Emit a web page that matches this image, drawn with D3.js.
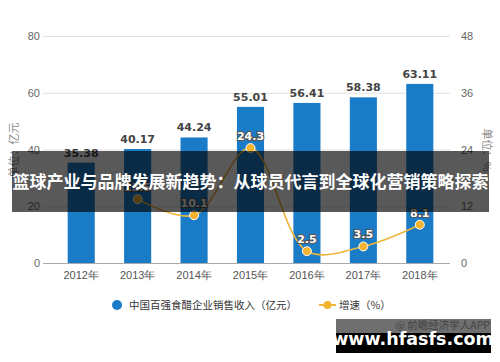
<!DOCTYPE html>
<html>
<head>
<meta charset="utf-8">
<script src="https://cdn.jsdelivr.net/npm/d3@7"></script>
<style>
  body { margin: 0; background: #fff; }
  svg { display: block; font-family: "Noto Sans CJK SC", "Noto Sans", sans-serif; }
</style>
</head>
<body>
<script>
// chart data
var years = ["2012年", "2013年", "2014年", "2015年", "2016年", "2017年", "2018年"];
var sales = [35.38, 40.17, 44.24, 55.01, 56.41, 58.38, 63.11];
var growth = [null, 13.5, 10.1, 24.3, 2.5, 3.5, 8.1];
var leftTicks = [0, 20, 40, 60, 80];
var rightTicks = [0, 12, 24, 36, 48];

var svgWidth = 500;
var svgHeight = 362;

var svg = d3.select("body")
  .append("svg")
  .attr("width", svgWidth)
  .attr("height", svgHeight);

// plot area
var plotLeft = 43, plotRight = 450, plotTop = 36, plotBottom = 263;

var xScale = d3.scaleBand()
  .domain(years)
  .range([53, 448])
  .paddingInner(0.52)
  .paddingOuter(0.26);

var yLeft = d3.scaleLinear().domain([0, 80]).range([plotBottom, plotTop]);
var yRight = d3.scaleLinear().domain([0, 48]).range([plotBottom, plotTop]);

// gridlines
svg.append("g")
  .selectAll("line")
  .data(leftTicks)
  .enter()
  .append("line")
  .attr("x1", plotLeft)
  .attr("x2", plotRight)
  .attr("y1", d => yLeft(d) + 0.5)
  .attr("y2", d => yLeft(d) + 0.5)
  .attr("stroke", d => d === 0 ? "#aaa" : "#e0e0e0")
  .attr("stroke-width", 1);

// left axis labels
var leftAxis = d3.axisLeft(yLeft).tickValues(leftTicks).tickSize(0).tickPadding(0);
var gl = svg.append("g")
  .attr("transform", "translate(40,0)")
  .call(leftAxis);
gl.select(".domain").remove();
gl.selectAll("text").attr("fill", "#666").style("font-size", "11px");

// right axis labels
var rightAxis = d3.axisRight(yRight).tickValues(rightTicks).tickSize(0).tickPadding(0);
var gr = svg.append("g")
  .attr("transform", "translate(461,0)")
  .call(rightAxis);
gr.select(".domain").remove();
gr.selectAll("text").attr("fill", "#666").style("font-size", "11px");

// x axis labels
var bottomAxis = d3.axisBottom(xScale).tickSize(0).tickPadding(8);
var gx = svg.append("g")
  .attr("transform", `translate(0, ${plotBottom})`)
  .call(bottomAxis);
gx.select(".domain").remove();
gx.selectAll("text").attr("fill", "#555").style("font-size", "11px");

// axis titles
svg.append("text")
  .attr("transform", `translate(18, 150) rotate(-90)`)
  .attr("text-anchor", "middle")
  .attr("fill", "#888")
  .style("font-size", "11px")
  .text("单位：亿元");

svg.append("text")
  .attr("transform", `translate(483, 150) rotate(90)`)
  .attr("text-anchor", "middle")
  .attr("fill", "#888")
  .style("font-size", "11px")
  .text("单位：%");

// bars
svg.append("g")
  .selectAll("rect")
  .data(sales)
  .enter()
  .append("rect")
  .attr("x", (d, i) => xScale(years[i]))
  .attr("y", d => yLeft(d))
  .attr("width", xScale.bandwidth())
  .attr("height", d => plotBottom - yLeft(d))
  .attr("fill", "#1a7bc7");

svg.append("g")
  .selectAll("text")
  .data(sales)
  .enter()
  .append("text")
  .attr("x", (d, i) => xScale(years[i]) + xScale.bandwidth() / 2)
  .attr("y", d => yLeft(d) - 6)
  .attr("text-anchor", "middle")
  .attr("fill", "#444")
  .style("font-size", "11px")
  .style("font-weight", "bold")
  .style("font-family", "DejaVu Sans, sans-serif")
  .text(d => d.toFixed(2));

// growth line
var growthPts = growth
  .map((v, i) => ({ year: years[i], value: v }))
  .filter(d => d.value !== null);

var line = d3.line()
  .x(d => xScale(d.year) + xScale.bandwidth() / 2)
  .y(d => yRight(d.value))
  .curve(d3.curveCatmullRom.alpha(0.5));

svg.append("path")
  .datum(growthPts)
  .attr("d", line)
  .attr("fill", "none")
  .attr("stroke", "#efb63c")
  .attr("stroke-width", 1.6);

svg.append("g")
  .selectAll("circle")
  .data(growthPts)
  .enter()
  .append("circle")
  .attr("cx", d => xScale(d.year) + xScale.bandwidth() / 2)
  .attr("cy", d => yRight(d.value))
  .attr("r", 4.5)
  .attr("fill", "#f3b431")
  .attr("stroke", "#fff")
  .attr("stroke-width", 1);

svg.append("g")
  .selectAll("text")
  .data(growthPts)
  .enter()
  .append("text")
  .attr("x", d => xScale(d.year) + xScale.bandwidth() / 2)
  .attr("y", d => yRight(d.value) - 8)
  .attr("text-anchor", "middle")
  .attr("fill", "#fff")
  .attr("stroke", "#555")
  .attr("stroke-width", 2)
  .attr("paint-order", "stroke")
  .style("font-size", "11px")
  .style("font-weight", "bold")
  .style("font-family", "DejaVu Sans, sans-serif")
  .text(d => d.value);

// legend
var legend = svg.append("g").attr("transform", "translate(0, 305)");
legend.append("circle")
  .attr("cx", 117).attr("cy", 0).attr("r", 5)
  .attr("fill", "#1a7bc7");
legend.append("text")
  .attr("x", 129).attr("y", 4)
  .attr("fill", "#333")
  .style("font-size", "10.5px")
  .text("中国百强食醋企业销售收入（亿元）");
legend.append("line")
  .attr("x1", 319).attr("x2", 336).attr("y1", 0).attr("y2", 0)
  .attr("stroke", "#efb63c").attr("stroke-width", 2);
legend.append("circle")
  .attr("cx", 327.5).attr("cy", 0).attr("r", 4)
  .attr("fill", "#f3b431");
legend.append("text")
  .attr("x", 339).attr("y", 4)
  .attr("fill", "#333")
  .style("font-size", "10.5px")
  .text("增速（%）");

// title banner
svg.append("rect")
  .attr("x", 12).attr("y", 151)
  .attr("width", 477).attr("height", 61)
  .attr("fill", "#000")
  .attr("fill-opacity", 0.65);
svg.append("text")
  .attr("x", 250.5).attr("y", 188)
  .attr("text-anchor", "middle")
  .attr("fill", "#fff")
  .style("font-size", "17px")
  .style("font-weight", "bold")
  .text("篮球产业与品牌发展新趋势：从球员代言到全球化营销策略探索");

// site stamp
svg.append("rect")
  .attr("x", 336).attr("y", 319)
  .attr("width", 155).attr("height", 14)
  .attr("fill", "#6f6f6f");
svg.append("rect")
  .attr("x", 336).attr("y", 333)
  .attr("width", 155).attr("height", 20)
  .attr("fill", "#000");
svg.append("text")
  .attr("x", 490).attr("y", 329)
  .attr("text-anchor", "end")
  .attr("fill", "#444")
  .style("font-size", "10.5px")
  .text("@ 前瞻经济学人APP");
svg.append("text")
  .attr("x", 413).attr("y", 345)
  .attr("text-anchor", "middle")
  .attr("fill", "#fff")
  .style("font-size", "17.5px")
  .style("font-weight", "bold")
  .style("font-family", "DejaVu Sans, sans-serif")
  .text("www.hfasfs.com");
</script>
</body>
</html>
